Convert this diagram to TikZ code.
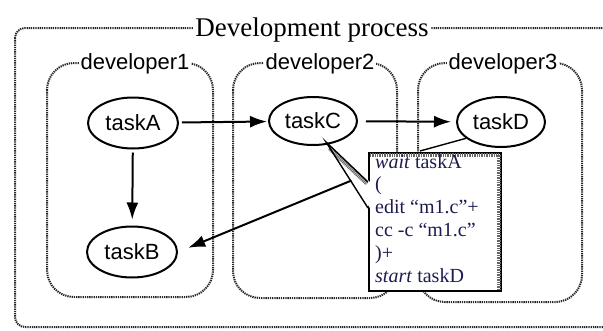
\documentclass[tikz,border=0pt]{standalone}
\usepackage{fontspec}
\setmainfont{Liberation Serif}
\newfontfamily\labelfont{Liberation Sans}
\usetikzlibrary{arrows.meta,calc,shapes.geometric}
\definecolor{notetext}{HTML}{1C1C50}

\begin{document}
\begin{tikzpicture}[x=1pt,y=-1pt,
  group/.style={draw=black!85, line width=2pt, dash pattern=on 1.3pt off 0.9pt, rounded corners=#1},
  grouplabel/.style={fill=white, inner xsep=1.5pt, inner ysep=1pt, anchor=base,
    font=\labelfont\fontsize{22}{22}\selectfont},
  task/.style={ellipse, draw, line width=2pt, fill=white, minimum width=90pt,
    minimum height=51pt, inner sep=0pt, font=\labelfont\fontsize{22}{22}\selectfont},
  flow/.style={line width=2pt, -{Latex[length=17pt,width=12pt]}},
  band/.style={draw=black!60, line width=4pt, dash pattern=on 1pt off 0.7pt},
  thinline/.style={line width=1.4pt}
]
\useasboundingbox (0,0) rectangle (603,330);

% enclosing process frame and its title
\draw[group=10pt] (15,28) rectangle (625,327);
\node[fill=white, inner sep=2pt, anchor=base, font=\fontsize{27}{27}\selectfont]
  (title) at (312,36) {Development process};

% one frame per developer
\draw[group=27pt] (47,63) rectangle (213,297);
\draw[group=27pt] (233,63) rectangle (397,298);
\draw[group=27pt] (418,63) rectangle (582,302);
\node[grouplabel] (dev1) at (135,69) {developer1};
\node[grouplabel] (dev2) at (320,69) {developer2};
\node[grouplabel] (dev3) at (503,69) {developer3};

% tasks
\node[task] (taskA) at (133,123) {taskA};
\node[task] (taskB) at (132,252) {taskB};
\node[task, minimum width=88pt, minimum height=48pt] (taskC) at (313,121) {taskC};
\node[task, minimum width=88pt, minimum height=50pt] (taskD) at (501,122) {taskD};

% control flow
\draw[flow, shorten <=3pt, shorten >=1pt] (taskA) -- (taskC);
\draw[flow, shorten <=8pt, shorten >=5pt] (taskC) -- (taskD);
\draw[flow, shorten <=3pt, shorten >=6pt] (taskA) -- (taskB);
\coordinate (noteout) at (360,177);
\draw[flow, shorten >=11pt] (noteout) -- (taskB.east);

% script of taskC, shown as a popup note
\node[draw, fill=white, line width=1.6pt, minimum width=132pt, minimum height=138pt,
  anchor=north west, inner sep=0pt] (note) at (368,152) {};
\draw[band] ($(note.north west)+(2,2.5)$) -- ($(note.north east)+(-2.5,2.5)$)
  -- ($(note.south east)+(-2.5,-2)$);
\coordinate (notecorner) at (420,151);
\draw[thinline] (taskD.205) -- (notecorner);

% pointer from taskC into the note
\coordinate (tip) at (326,142);
\coordinate (wa) at (368,182);
\coordinate (wb) at (368,208);
\fill[white] (tip) -- ($(wa)+(2,0)$) -- ($(wb)+(2,0)$) -- cycle;
\draw[band, line width=3.5pt] ($(tip)!0.12!(wa)+(-1.7,1.8)$) -- ($(wa)+(-1.2,1.8)$);
\draw[thinline] (wa) -- (tip) -- (wb);

\node[anchor=north west, inner sep=0pt, align=left, text=notetext,
  font=\fontsize{20}{22.8}\selectfont] (script) at (375,154)
  {\textit{wait} taskA\\(\\edit “m1.c”+\\cc -c “m1.c”\\)+\\\textit{start} taskD};
\end{tikzpicture}
\end{document}
